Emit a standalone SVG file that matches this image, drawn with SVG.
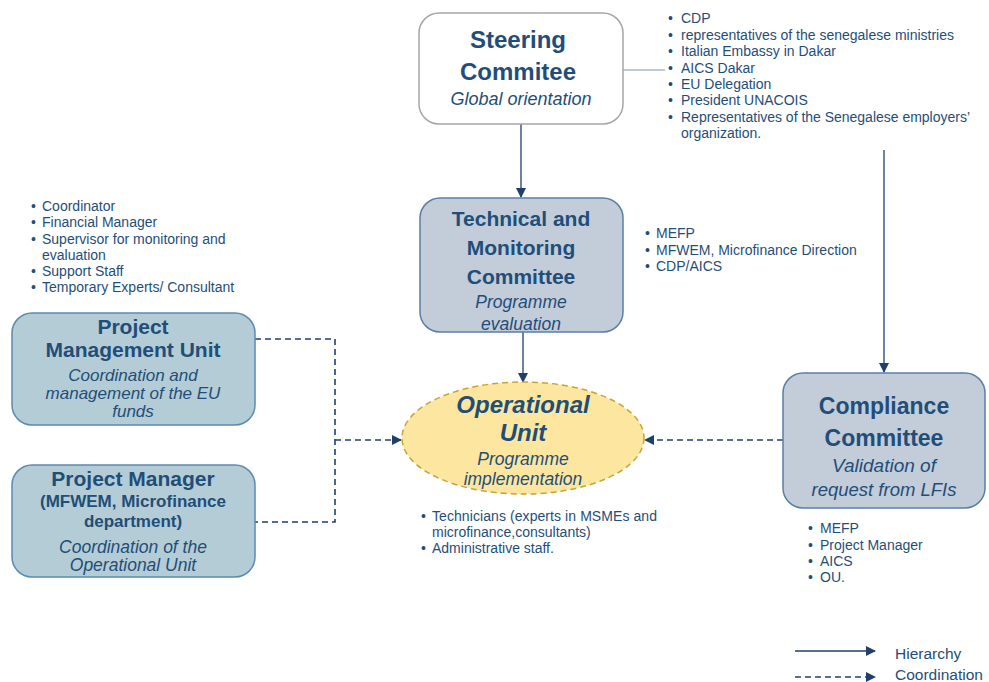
<svg xmlns="http://www.w3.org/2000/svg" width="989" height="682" viewBox="0 0 989 682">
<style>
text{font-family:"Liberation Sans",Arial,sans-serif;fill:#1f4e79}
.t{font-weight:bold;text-anchor:middle}
.s{font-style:italic;text-anchor:middle}
.b{font-size:14px}
.solid{stroke:#1f3f6e;stroke-width:1.3;fill:none}
.dash{stroke:#1f3f6e;stroke-width:1.6;fill:none;stroke-dasharray:6,4}
</style>
<defs>
<marker id="ah" markerWidth="10" markerHeight="10" refX="9" refY="5" orient="auto" markerUnits="userSpaceOnUse">
<path d="M0,0 L10,5 L0,10 Z" fill="#1f3f6e"/>
</marker>
</defs>
<rect width="989" height="682" fill="#ffffff"/>

<g id="connectors">
<line x1="623" y1="70" x2="665" y2="70" stroke="#7f96b2" stroke-width="1.2"/>
<line class="solid" x1="521" y1="124" x2="521" y2="197" marker-end="url(#ah)"/>
<line class="solid" x1="523" y1="332" x2="523" y2="382" marker-end="url(#ah)"/>
<line class="solid" x1="884" y1="150" x2="884" y2="372" marker-end="url(#ah)"/>
<polyline class="dash" points="255,339 335,339 335,522 255,522"/>
<line class="dash" x1="335" y1="440" x2="401" y2="440" marker-end="url(#ah)"/>
<line class="dash" x1="783" y1="440" x2="645" y2="440" marker-end="url(#ah)"/>
</g>

<g id="steering">
<rect x="419" y="13" width="204" height="111" rx="20" fill="#ffffff" stroke="#a6a6a6" stroke-width="1.5"/>
<text class="t" x="518" y="48" font-size="24">Steering</text>
<text class="t" x="518" y="80" font-size="24">Commitee</text>
<text class="s" x="521" y="105" font-size="18">Global orientation</text>
</g>
<g id="steering-members" class="b">
<text x="668" y="23">•</text><text x="681" y="23">CDP</text>
<text x="668" y="40">•</text><text x="681" y="40" textLength="273">representatives of the senegalese ministries</text>
<text x="668" y="56">•</text><text x="681" y="56">Italian Embassy in Dakar</text>
<text x="668" y="73">•</text><text x="681" y="73">AICS Dakar</text>
<text x="668" y="89">•</text><text x="681" y="89">EU Delegation</text>
<text x="668" y="105">•</text><text x="681" y="105">President UNACOIS</text>
<text x="668" y="122">•</text><text x="681" y="122" textLength="289">Representatives of the Senegalese employers’</text>
<text x="681" y="138">organization.</text>
</g>

<g id="technical">
<rect x="420" y="198" width="203" height="134" rx="20" fill="#c3ccd9" stroke="#5b7fa6" stroke-width="1.5"/>
<text class="t" x="521" y="226" font-size="21">Technical and</text>
<text class="t" x="521" y="255" font-size="21">Monitoring</text>
<text class="t" x="521" y="284" font-size="21">Committee</text>
<text class="s" x="521" y="308" font-size="17.5">Programme</text>
<text class="s" x="521" y="330" font-size="17.5">evaluation</text>
</g>
<g id="technical-members" class="b">
<text x="645" y="238">•</text><text x="656" y="238">MEFP</text>
<text x="645" y="255">•</text><text x="656" y="255">MFWEM, Microfinance Direction</text>
<text x="645" y="271">•</text><text x="656" y="271">CDP/AICS</text>
</g>

<g id="operational">
<ellipse cx="523" cy="438" rx="121" ry="56" fill="#fde7a0" stroke="#c8a434" stroke-width="1.5" stroke-dasharray="6,4"/>
<text class="t" x="523" y="413" font-size="24" font-style="italic">Operational</text>
<text class="t" x="523" y="441" font-size="24" font-style="italic">Unit</text>
<text class="s" x="523" y="465" font-size="17.5">Programme</text>
<text class="s" x="523" y="485" font-size="17.5">implementation</text>
</g>
<g id="operational-members" class="b">
<text x="421" y="521">•</text><text x="432" y="521" textLength="225">Technicians (experts in MSMEs and</text>
<text x="432" y="537">microfinance,consultants)</text>
<text x="421" y="553">•</text><text x="432" y="553">Administrative staff.</text>
</g>

<g id="pmu-members" class="b">
<text x="31" y="211">•</text><text x="42" y="211">Coordinator</text>
<text x="31" y="227">•</text><text x="42" y="227">Financial Manager</text>
<text x="31" y="244">•</text><text x="42" y="244">Supervisor for monitoring and</text>
<text x="42" y="260">evaluation</text>
<text x="31" y="276">•</text><text x="42" y="276">Support Staff</text>
<text x="31" y="292">•</text><text x="42" y="292">Temporary Experts/ Consultant</text>
</g>

<g id="pmu">
<rect x="12" y="313" width="243" height="112" rx="20" fill="#b4ccd5" stroke="#5b8bb0" stroke-width="1.5"/>
<text class="t" x="133" y="334" font-size="21">Project</text>
<text class="t" x="133" y="357" font-size="21">Management Unit</text>
<text class="s" x="133" y="381" font-size="17">Coordination and</text>
<text class="s" x="133" y="399" font-size="17">management of the EU</text>
<text class="s" x="133" y="417" font-size="17">funds</text>
</g>

<g id="project-manager">
<rect x="12" y="465" width="243" height="112" rx="20" fill="#b4ccd5" stroke="#5b8bb0" stroke-width="1.5"/>
<text class="t" x="133" y="486" font-size="21">Project Manager</text>
<text class="t" x="133" y="507" font-size="17">(MFWEM, Microfinance</text>
<text class="t" x="133" y="527" font-size="17">department)</text>
<text class="s" x="133" y="553" font-size="17.5">Coordination of the</text>
<text class="s" x="133" y="571" font-size="17.5">Operational Unit</text>
</g>

<g id="compliance">
<rect x="783" y="373" width="202" height="135" rx="20" fill="#c3ccd9" stroke="#5b7fa6" stroke-width="1.5"/>
<text class="t" x="884" y="414" font-size="23">Compliance</text>
<text class="t" x="884" y="446" font-size="23">Committee</text>
<text class="s" x="884" y="472" font-size="19">Validation of</text>
<text class="s" x="884" y="496" font-size="18.5">request from LFIs</text>
</g>
<g id="compliance-members" class="b">
<text x="808" y="533">•</text><text x="820" y="533">MEFP</text>
<text x="808" y="550">•</text><text x="820" y="550">Project Manager</text>
<text x="808" y="566">•</text><text x="820" y="566">AICS</text>
<text x="808" y="582">•</text><text x="820" y="582">OU.</text>
</g>

<g id="legend">
<line class="solid" x1="795" y1="651" x2="875" y2="651" stroke-width="2" marker-end="url(#ah)"/>
<line class="dash" x1="795" y1="677" x2="875" y2="677" stroke-width="2" marker-end="url(#ah)"/>
<text x="895" y="659" font-size="15.5">Hierarchy</text>
<text x="895" y="680" font-size="15.5">Coordination</text>
</g>
</svg>
